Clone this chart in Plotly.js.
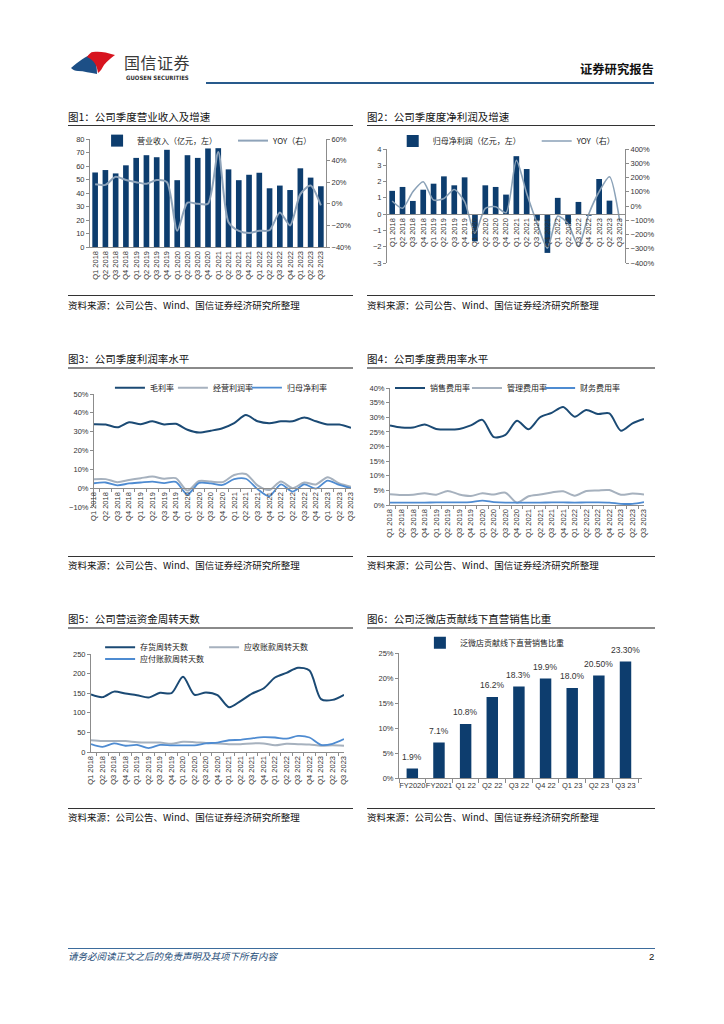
<!DOCTYPE html>
<html><head><meta charset="utf-8">
<script src="https://cdn.plot.ly/plotly-3.0.1.min.js"></script>
<style>
body{margin:0;background:#fff;width:724px;height:1024px;position:relative;overflow:hidden;font-family:"Noto Sans CJK SC",sans-serif;color:#111;}
.ttl{position:absolute;font-size:10.5px;line-height:12px;white-space:nowrap;color:#111;}
.src{position:absolute;font-size:9.5px;line-height:11px;white-space:nowrap;color:#111;}
.ln{position:absolute;}
.ch{position:absolute;}
</style></head><body>

<!-- header -->
<svg style="position:absolute;left:66px;top:48px" width="54" height="30" viewBox="0 0 54 30">
  <path d="M5,20 C12,14 20,8 26,6 C29,10 31,16 31,26 C24,25 18,23 12,23 C9,23 7,22 5,20 Z" fill="#1c4f86"/>
  <path d="M21,9 C23,6 25,4 27,4 C33,3 40,4 49,7 C45,10 41,13 38,17 C36,20 35,23 32,25 C31,17 28,12 21,9 Z" fill="#d7141f"/>
</svg>
<div style="position:absolute;left:124px;top:53px;font-size:16px;line-height:18px;color:#3a3a3a;letter-spacing:0.5px;">国信证券</div>
<div style="position:absolute;left:126px;top:74px;font-size:6px;line-height:7px;color:#333;font-family:'DejaVu Sans Condensed','Liberation Sans',sans-serif;font-weight:bold;white-space:nowrap;">GUOSEN SECURITIES</div>
<div style="position:absolute;left:580px;top:62px;font-size:12.3px;line-height:15px;font-weight:bold;color:#111;">证券研究报告</div>
<div class="ln" style="left:206px;top:81.5px;width:448px;height:2px;background:#285a8c;"></div>

<!-- titles & lines -->
<div class="ttl" style="left:68px;top:111px;">图1：公司季度营业收入及增速</div>
<div class="ln" style="left:68px;top:125px;width:285px;height:1px;background:#333;"></div>
<div class="ttl" style="left:367px;top:111px;">图2：公司季度度净利润及增速</div>
<div class="ln" style="left:367px;top:125px;width:288px;height:1px;background:#333;"></div>
<div class="ln" style="left:68px;top:295px;width:285px;height:1px;background:#333;"></div>
<div class="src" style="left:68px;top:300px;">资料来源：公司公告、Wind、国信证券经济研究所整理</div>
<div class="ln" style="left:367px;top:295px;width:288px;height:1px;background:#333;"></div>
<div class="src" style="left:367px;top:300px;">资料来源：公司公告、Wind、国信证券经济研究所整理</div>

<div class="ttl" style="left:68px;top:353px;">图3：公司季度利润率水平</div>
<div class="ln" style="left:68px;top:367px;width:285px;height:1.5px;background:#8a8a8a;"></div>
<div class="ttl" style="left:367px;top:353px;">图4：公司季度费用率水平</div>
<div class="ln" style="left:367px;top:367px;width:288px;height:1.5px;background:#8a8a8a;"></div>
<div class="ln" style="left:68px;top:556px;width:285px;height:1px;background:#333;"></div>
<div class="src" style="left:68px;top:560px;">资料来源：公司公告、Wind、国信证券经济研究所整理</div>
<div class="ln" style="left:367px;top:556px;width:288px;height:1px;background:#333;"></div>
<div class="src" style="left:367px;top:560px;">资料来源：公司公告、Wind、国信证券经济研究所整理</div>

<div class="ttl" style="left:68px;top:613px;">图5：公司营运资金周转天数</div>
<div class="ln" style="left:68px;top:627px;width:285px;height:1.5px;background:#8a8a8a;"></div>
<div class="ttl" style="left:367px;top:613px;">图6：公司泛微店贡献线下直营销售比重</div>
<div class="ln" style="left:367px;top:627px;width:288px;height:1.5px;background:#8a8a8a;"></div>
<div class="ln" style="left:68px;top:808px;width:285px;height:1px;background:#333;"></div>
<div class="src" style="left:68px;top:812px;">资料来源：公司公告、Wind、国信证券经济研究所整理</div>
<div class="ln" style="left:367px;top:808px;width:288px;height:1px;background:#333;"></div>
<div class="src" style="left:367px;top:812px;">资料来源：公司公告、Wind、国信证券经济研究所整理</div>

<!-- footer -->
<div class="ln" style="left:68px;top:948px;width:587px;height:1px;background:#3d6c9c;"></div>
<div style="position:absolute;left:68px;top:951px;font-size:9.5px;line-height:11px;font-style:italic;color:#1f4e79;white-space:nowrap;">请务必阅读正文之后的免责声明及其项下所有内容</div>
<div style="position:absolute;left:649px;top:951px;font-size:9.5px;line-height:11px;color:#111;font-family:'Liberation Sans',sans-serif;">2</div>

<div id="c1" class="ch" style="left:60px;top:128px;"></div>
<div id="c2" class="ch" style="left:360px;top:128px;"></div>
<div id="c3" class="ch" style="left:60px;top:375px;"></div>
<div id="c4" class="ch" style="left:360px;top:375px;"></div>
<div id="c5" class="ch" style="left:60px;top:635px;"></div>
<div id="c6" class="ch" style="left:360px;top:635px;"></div>

<script>
// ---------- data ----------
const quarters = ['Q1 2018','Q2 2018','Q3 2018','Q4 2018','Q1 2019','Q2 2019','Q3 2019','Q4 2019',
  'Q1 2020','Q2 2020','Q3 2020','Q4 2020','Q1 2021','Q2 2021','Q3 2021','Q4 2021',
  'Q1 2022','Q2 2022','Q3 2022','Q4 2022','Q1 2023','Q2 2023','Q3 2023'];

// Fig1 revenue (亿元) and YOY
const revenue = [55.2,57,54.5,60.5,66,68,66.5,72,49.5,68,66,73,73.2,57.5,49.5,53.5,55,43.5,45.5,42.2,58.3,51.4,45];
const revenueYoy = [0.18,0.175,0.25,0.22,0.20,0.185,0.22,0.20,-0.25,0.01,0.0,0.0,0.48,-0.17,-0.25,-0.27,-0.25,-0.245,-0.08,-0.20,0.09,0.17,-0.015];

// Fig2 net profit (亿元) and YOY
const netProfit = [1.43,1.67,0.81,1.5,1.87,2.32,1.77,2.26,-1.67,1.77,1.67,1.2,3.56,2.77,-0.39,-2.38,1.0,-0.61,0.75,-0.1,2.16,0.83,-0.03];
const netProfitYoy = [0.35,-0.16,1.0,1.7,0.42,0.53,1.16,0.3,-1.9,-0.16,-0.05,-0.47,3.2,0.88,-1.2,-2.95,-0.7,-1.25,-2.83,-0.56,1.0,2.05,-1.1];

// Fig3 margins
const grossMargin = [0.34,0.338,0.323,0.35,0.34,0.355,0.338,0.342,0.31,0.295,0.305,0.318,0.345,0.388,0.355,0.345,0.355,0.355,0.375,0.355,0.338,0.338,0.32];
const operatingMargin = [0.048,0.048,0.032,0.043,0.053,0.062,0.05,0.053,-0.013,0.038,0.035,0.032,0.07,0.075,0.015,-0.01,0.035,0.0,0.03,0.02,0.058,0.025,0.008];
const netMargin = [0.026,0.03,0.015,0.025,0.03,0.035,0.027,0.033,-0.033,0.028,0.025,0.017,0.048,0.05,-0.005,-0.043,0.02,-0.018,0.02,-0.002,0.04,0.017,0.0];

// Fig4 expense ratios
const sellingRatio = [0.272,0.265,0.265,0.275,0.26,0.258,0.26,0.272,0.291,0.232,0.24,0.288,0.259,0.30,0.315,0.335,0.302,0.325,0.311,0.313,0.254,0.279,0.294];
const adminRatio = [0.037,0.034,0.035,0.04,0.035,0.048,0.036,0.031,0.04,0.036,0.042,0.008,0.03,0.036,0.043,0.047,0.032,0.048,0.05,0.051,0.035,0.039,0.036];
const financeRatio = [0.008,0.008,0.008,0.008,0.009,0.009,0.009,0.01,0.015,0.01,0.008,0.008,0.008,0.008,0.009,0.009,0.008,0.009,0.009,0.008,0.004,0.004,0.01];

// Fig5 turnover days
const inventoryDays = [147,140,154,149,145,139,151,150,192,146,152,145,114,130,149,162,190,202,215,208,135,133,146];
const receivableDays = [30,28,28,28,25,24,24,21,26,25,23,22,20,20,22,22,17,21,20,19,16,17,16];
const payableDays = [20,13,22,16,18,10,18,17,17,17,22,24,30,31,35,38,37,34,41,37,18,21,33];

// Fig6 share
const shareCats = ['FY2020','FY2021','Q1 22','Q2 22','Q3 22','Q4 22','Q1 23','Q2 23','Q3 23'];
const shareVals = [0.019,0.071,0.108,0.162,0.183,0.199,0.180,0.205,0.233];
const shareLabels = ['1.9%','7.1%','10.8%','16.2%','18.3%','19.9%','18.0%','20.50%','23.30%'];

// ---------- style ----------
const FONT = '"Liberation Sans", Arial, "Noto Sans CJK SC", sans-serif';
const NAVY = '#0d3d6e';
const DARK = '#1b4a74';
const GRAY = '#a6b1be';
const BLUE = '#4e8bd1';
const AX = '#8c8c8c';
const cfg = {staticPlot:true, displayModeBar:false};

function baseLayout(w,h,m){
  return {width:w,height:h,margin:Object.assign({autoexpand:false},m),paper_bgcolor:'rgba(0,0,0,0)',plot_bgcolor:'rgba(0,0,0,0)',
    font:{family:FONT,size:7.5,color:'#333'},showlegend:true};
}
function yax(o){
  return Object.assign({showline:true,linecolor:AX,linewidth:1,ticks:'outside',ticklen:3,tickcolor:AX,
    showgrid:false,zeroline:false,tickfont:{size:7.5},automargin:false},o);
}
function xcat(o){
  return Object.assign({type:'category',tickangle:-90,showline:true,linecolor:AX,linewidth:1,ticks:'outside',
    ticklen:3,tickcolor:AX,tickson:'boundaries',showgrid:false,zeroline:false,tickfont:{size:7.5},automargin:false},o);
}
function leg(x,y){
  return {orientation:'h',x:x,y:y,xanchor:'left',yanchor:'middle',bgcolor:'rgba(0,0,0,0)',
    font:{size:8,color:'#222',family:'"Noto Sans CJK SC", sans-serif'},itemwidth:30};
}

// ---------- Fig1 ----------
Plotly.newPlot('c1',[
  {type:'bar',x:quarters,y:revenue,name:'营业收入（亿元，左）',marker:{color:NAVY},legend:'legend'},
  {type:'scatter',mode:'lines',x:quarters,y:revenueYoy,yaxis:'y2',name:'YOY（右）',legend:'legend2',
   line:{color:'#8ea3b9',width:2,shape:'spline',smoothing:0.7}}
],Object.assign(baseLayout(300,165,{l:30,r:34,t:11,b:46}),{
  bargap:0.45,
  legend:leg(0.03,0.985),
  legend2:leg(0.606,0.985),
  xaxis:xcat({ticks:''}),
  yaxis:yax({range:[0,80],dtick:10}),
  yaxis2:yax({overlaying:'y',side:'right',range:[-0.4,0.6],dtick:0.2,tickformat:'.0%'})
}),cfg);

// ---------- Fig2 ----------
Plotly.newPlot('c2',[
  {type:'bar',x:quarters,y:netProfit,name:'归母净利润（亿元，左）',marker:{color:NAVY},legend:'legend'},
  {type:'scatter',mode:'lines',x:quarters,y:netProfitYoy,yaxis:'y2',name:'YOY（右）',legend:'legend2',
   line:{color:'#8aa1b7',width:1.6,shape:'spline',smoothing:0.7}}
],Object.assign(baseLayout(310,165,{l:27,r:45,t:21,b:30}),{
  bargap:0.45,
  legend:leg(0.024,1.07),
  legend2:leg(0.629,1.07),
  xaxis:xcat({anchor:'free',position:3/7,ticks:''}),
  yaxis:yax({range:[-3,4],dtick:1}),
  yaxis2:yax({overlaying:'y',side:'right',range:[-4,4],dtick:1,tickformat:'.0%'})
}),cfg);

// ---------- Fig3 ----------
Plotly.newPlot('c3',[
  {type:'scatter',mode:'lines',x:quarters,y:grossMargin,name:'毛利率',legend:'legend',line:{color:DARK,width:2,shape:'spline',smoothing:0.8}},
  {type:'scatter',mode:'lines',x:quarters,y:operatingMargin,name:'经营利润率',legend:'legend2',line:{color:GRAY,width:2,shape:'spline',smoothing:0.8}},
  {type:'scatter',mode:'lines',x:quarters,y:netMargin,name:'归母净利率',legend:'legend3',line:{color:BLUE,width:1.8,shape:'spline',smoothing:0.8}}
],Object.assign(baseLayout(300,175,{l:34,r:9,t:19,b:43}),{
  legend:leg(0.062,1.056),
  legend2:leg(0.307,1.056),
  legend3:leg(0.595,1.056),
  xaxis:xcat({anchor:'free',position:1/6}),
  yaxis:yax({range:[-0.1,0.5],dtick:0.1,tickformat:'.0%'})
}),cfg);

// ---------- Fig4 ----------
Plotly.newPlot('c4',[
  {type:'scatter',mode:'lines',x:quarters,y:sellingRatio,name:'销售费用率',legend:'legend',line:{color:DARK,width:2,shape:'spline',smoothing:0.8}},
  {type:'scatter',mode:'lines',x:quarters,y:adminRatio,name:'管理费用率',legend:'legend2',line:{color:GRAY,width:2,shape:'spline',smoothing:0.8}},
  {type:'scatter',mode:'lines',x:quarters,y:financeRatio,name:'财务费用率',legend:'legend3',line:{color:BLUE,width:1.8,shape:'spline',smoothing:0.8}}
],Object.assign(baseLayout(310,170,{l:30,r:26,t:13,b:40}),{
  legend:leg(0.0,1.0),
  legend2:leg(0.303,1.0),
  legend3:leg(0.591,1.0),
  xaxis:xcat({}),
  yaxis:yax({range:[0,0.4],dtick:0.05,tickformat:'.0%'})
}),cfg);

// ---------- Fig5 ----------
Plotly.newPlot('c5',[
  {type:'scatter',mode:'lines',x:quarters,y:inventoryDays,name:'存货周转天数',legend:'legend',line:{color:DARK,width:2,shape:'spline',smoothing:0.8}},
  {type:'scatter',mode:'lines',x:quarters,y:receivableDays,name:'应收账款周转天数',legend:'legend2',line:{color:GRAY,width:2,shape:'spline',smoothing:0.8}},
  {type:'scatter',mode:'lines',x:quarters,y:payableDays,name:'应付账款周转天数',legend:'legend3',line:{color:BLUE,width:1.8,shape:'spline',smoothing:0.8}}
],Object.assign(baseLayout(300,170,{l:31,r:16,t:19,b:53}),{
  legend:leg(0.036,1.068),
  legend2:leg(0.447,1.068),
  legend3:leg(0.036,0.949),
  xaxis:xcat({}),
  yaxis:yax({range:[0,250],dtick:50})
}),cfg);

// ---------- Fig6 ----------
Plotly.newPlot('c6',[
  {type:'bar',x:shareCats,y:shareVals,name:'泛微店贡献线下直营销售比重',marker:{color:NAVY},cliponaxis:false}
],Object.assign(baseLayout(310,165,{l:39,r:28,t:18,b:22}),{
  bargap:0.57,
  legend:leg(0.086,1.082),
  xaxis:{type:'category',showline:true,linecolor:AX,ticks:'outside',ticklen:4,tickcolor:AX,tickson:'boundaries',
    showgrid:false,zeroline:false,tickfont:{size:7.5},tickangle:0,automargin:false},
  yaxis:yax({range:[0,0.25],dtick:0.05,tickformat:'.0%'}),
  annotations:shareCats.map((c,i)=>({x:c,y:shareVals[i],text:shareLabels[i],showarrow:false,yanchor:'bottom',
    yshift:5,font:{size:8.5,color:'#333',family:FONT}}))
}),cfg);
</script>
</body></html>
